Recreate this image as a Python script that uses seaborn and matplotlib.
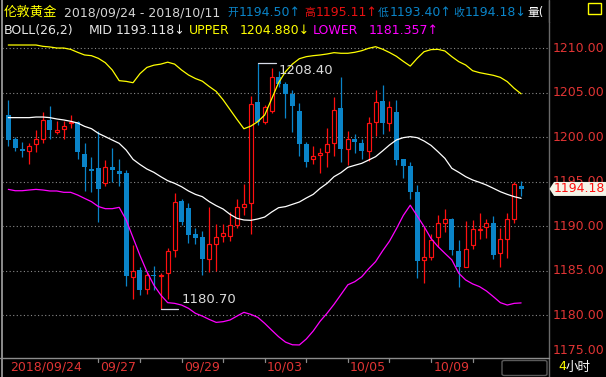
import numpy as np
import pandas as pd
import matplotlib
matplotlib.use("Agg")
import matplotlib.pyplot as plt
from matplotlib.patches import FancyBboxPatch, Polygon, Rectangle
import seaborn as sns

# ---------------- data ----------------
open_ = [1202.5, 1199.8, 1198.6, 1198.4, 1199.2, 1199.8, 1201.9, 1200.6, 1200.95, 1201.55,
         1201.75, 1198.1, 1196.4, 1196.5, 1194.8, 1196.65, 1196.2, 1196.0, 1184.3, 1185.05,
         1182.9, 1184.45, 1184.35, 1184.7, 1187.3, 1192.8, 1192.0, 1189.1, 1188.75, 1186.25,
         1187.95, 1188.85, 1188.85, 1190.15, 1192.1, 1192.65, 1203.95, 1201.75, 1202.9, 1206.75,
         1206.0, 1204.85, 1202.9, 1199.2, 1197.5, 1198.05, 1198.3, 1199.4, 1203.3, 1198.65,
         1199.75, 1199.4, 1198.5, 1201.75, 1204.05, 1201.65, 1202.85, 1197.5, 1196.75, 1193.85,
         1186.15, 1186.55, 1188.75, 1190.4, 1190.75, 1187.2, 1185.45, 1187.85, 1189.6, 1189.9,
         1190.3, 1186.95, 1188.6, 1190.8, 1194.50]
high = [1204.2, 1200.0, 1199.5, 1199.4, 1200.8, 1202.8, 1203.5, 1201.85, 1201.85, 1202.45,
        1201.85, 1199.35, 1197.8, 1200.65, 1197.4, 1198.8, 1197.6, 1196.3, 1187.9, 1185.35,
        1184.8, 1185.5, 1184.7, 1187.5, 1193.7, 1193.1, 1192.55, 1189.8, 1189.4, 1192.15,
        1190.2, 1190.2, 1191.6, 1193.1, 1194.75, 1204.6, 1208.40, 1203.6, 1207.75, 1207.4,
        1206.2, 1205.3, 1203.8, 1199.5, 1199.0, 1198.75, 1201.0, 1204.5, 1206.75, 1200.65,
        1200.4, 1199.8, 1202.25, 1205.3, 1205.85, 1204.05, 1204.2, 1197.6, 1197.2, 1194.6,
        1189.95, 1189.1, 1191.25, 1191.9, 1190.95, 1188.4, 1190.55, 1190.7, 1191.45, 1190.75,
        1191.1, 1189.8, 1191.45, 1195.0, 1195.11]
low = [1199.05, 1198.5, 1197.8, 1196.95, 1198.3, 1199.4, 1199.8, 1200.4, 1199.8, 1201.05,
       1197.5, 1193.9, 1193.8, 1190.5, 1194.5, 1195.0, 1194.5, 1183.3, 1181.85, 1182.2,
       1182.4, 1182.8, 1180.70, 1181.75, 1186.5, 1190.1, 1188.1, 1188.0, 1184.5, 1184.8,
       1185.0, 1188.25, 1188.35, 1189.75, 1191.3, 1189.1, 1201.35, 1201.5, 1202.7, 1205.6,
       1202.2, 1200.6, 1197.9, 1196.7, 1197.0, 1195.95, 1196.7, 1197.9, 1197.25, 1196.9,
       1198.2, 1197.6, 1197.35, 1200.15, 1200.4, 1200.75, 1196.9, 1195.45, 1193.05, 1184.2,
       1183.6, 1186.2, 1187.7, 1189.3, 1186.75, 1183.2, 1185.35, 1187.45, 1188.6, 1188.65,
       1186.25, 1185.35, 1186.4, 1190.3, 1193.40]
close = [1199.7, 1198.8, 1198.5, 1199.0, 1199.8, 1201.9, 1200.85, 1200.8, 1201.3, 1201.7,
         1198.3, 1196.6, 1196.2, 1194.2, 1196.6, 1196.35, 1195.9, 1184.4, 1184.95, 1182.85,
         1184.55, 1184.35, 1184.55, 1187.15, 1192.7, 1190.5, 1189.05, 1188.7, 1186.35, 1187.95,
         1188.75, 1189.2, 1190.1, 1192.1, 1192.45, 1203.7, 1201.75, 1203.4, 1206.75, 1206.0,
         1204.85, 1203.55, 1199.25, 1197.25, 1197.85, 1198.2, 1199.25, 1203.1, 1198.7, 1199.75,
         1199.5, 1198.45, 1201.55, 1204.0, 1201.6, 1203.35, 1197.45, 1196.75, 1193.85, 1186.1,
         1186.5, 1188.4, 1190.3, 1190.75, 1187.3, 1185.45, 1187.4, 1189.65, 1189.7, 1190.3,
         1186.8, 1188.5, 1190.75, 1194.7, 1194.18]
upper = [1210.37, 1210.37, 1210.37, 1210.37, 1210.37, 1210.22, 1210.15, 1210.03, 1210.03, 1209.88,
         1209.55, 1209.25, 1209.17, 1208.87, 1208.38, 1207.56, 1206.36, 1206.28, 1206.13, 1207.15,
         1207.85, 1208.1, 1208.22, 1208.44, 1208.22, 1207.56, 1207.0, 1206.6, 1206.3, 1205.7,
         1205.15, 1204.2, 1203.1, 1202.0, 1200.95, 1201.25, 1201.75, 1202.5, 1204.3, 1206.13,
         1207.37, 1208.23, 1208.83, 1209.06, 1209.17, 1209.25, 1209.36, 1209.51, 1209.44, 1209.44,
         1209.55, 1209.73, 1210.0, 1210.18, 1209.9, 1209.53, 1209.1, 1208.53, 1208.0, 1208.87,
         1209.62, 1209.85, 1209.88, 1209.7, 1209.06, 1208.5, 1208.12, 1207.48, 1207.26, 1207.11,
         1206.96, 1206.73, 1206.25, 1205.5, 1204.88]
mid = [1202.2, 1202.2, 1202.2, 1202.2, 1202.27, 1202.27, 1202.2, 1202.05, 1201.94, 1201.79,
       1201.6, 1201.22, 1200.96, 1200.43, 1200.06, 1199.68, 1199.31, 1198.56, 1197.51, 1196.93,
       1196.42, 1196.05, 1195.56, 1195.11, 1194.81, 1194.43, 1193.95, 1193.57, 1193.31, 1192.75,
       1192.3, 1191.92, 1191.32, 1190.87, 1190.69, 1190.65, 1190.8, 1191.02, 1191.58, 1192.07,
       1192.19, 1192.45, 1192.71, 1193.16, 1193.57, 1194.25, 1194.81, 1195.56, 1196.01, 1196.61,
       1196.84, 1197.06, 1197.43, 1197.81, 1198.45, 1199.12, 1199.69, 1199.95, 1200.06, 1199.95,
       1199.57, 1199.08, 1198.37, 1197.62, 1196.5, 1196.05, 1195.56, 1195.19, 1194.92, 1194.62,
       1194.25, 1193.87, 1193.57, 1193.31, 1193.12]
lower = [1194.13, 1193.98, 1193.98, 1194.06, 1194.13, 1194.06, 1193.95, 1193.95, 1193.8, 1193.8,
         1193.5, 1193.12, 1192.75, 1192.2, 1191.96, 1191.96, 1192.11, 1190.7, 1188.7, 1186.7,
         1184.87, 1183.37, 1182.25, 1181.39, 1181.31, 1181.12, 1180.75, 1180.19, 1179.88, 1179.5,
         1179.17, 1179.25, 1179.44, 1179.88, 1180.3, 1180.07, 1179.74, 1179.06, 1178.3, 1177.56,
         1176.95, 1176.65, 1176.63, 1177.3, 1178.2, 1179.3, 1180.2, 1181.2, 1182.3, 1183.4,
         1183.75, 1184.3, 1185.2, 1186.0, 1187.2, 1188.3, 1189.7, 1191.2, 1192.35, 1191.15,
         1189.94, 1188.6, 1187.7, 1186.94, 1186.2, 1184.7, 1183.94, 1183.5, 1183.19, 1182.7,
         1182.06, 1181.39, 1181.12, 1181.31, 1181.36]

price_ticks = [1210, 1205, 1200, 1195, 1190, 1185, 1180]
date_labels = ["2018/09/24", "09/27", "09/29", "10/03", "10/05", "10/09"]
date_label_idx = [0, 13, 25, 37, 49, 61]
minor_tick_idx = [13, 19, 25, 31, 37, 43, 49, 55, 61, 67]

header_name = "伦敦黄金"
header_range = "2018/09/24 - 2018/10/11"
ohlc_text = [("开", "1194.50↑"), ("高", "1195.11↑"), ("低", "1193.40↑"), ("收", "1194.18↓")]
boll_values = {"MID": "1193.118↓", "UPPER": "1204.880↓", "LOWER": "1181.357↑"}
last_price = "1194.18"

# ---------------- style ----------------
sns.set_theme(style="dark")
plt.rcParams["font.family"] = ["DejaVu Sans", "Noto Sans CJK SC"]
plt.rcParams["axes.facecolor"] = "black"
plt.rcParams["figure.facecolor"] = "black"

W, H = 606, 377
fig = plt.figure(figsize=(W / 100, H / 100), dpi=100)
fig.patch.set_facecolor("black")

# axes: x pixels 2..548, y pixels 0..357
ax = fig.add_axes([2 / W, (H - 357) / H, 546 / W, 357 / H])
ax.set_facecolor("black")
px_per_bar = 6.93
x0px = 8.3
ppu = 8.89  # pixels per price unit
XL = ((2 - x0px) / px_per_bar, (548 - x0px) / px_per_bar)
YL = (1210 - (357 - 48.3) / ppu, 1210 + 48.3 / ppu)
for s in ax.spines.values():
    s.set_visible(False)
ax.grid(False)

BLUE = "#0a84c8"
RED = "#ff1010"
LABEL_RED = "#e03434"

# gridlines
for p in price_ticks:
    ax.axhline(p, color="#8a8a8a", lw=0.8, ls=(0, (1, 2.2)), zorder=1)

n = len(open_)
idx = np.arange(n)
o = np.array(open_); c = np.array(close); h = np.array(high); l = np.array(low)
up = c >= o
bw = 0.72

# blue (down) candles
dn = ~up
ax.vlines(idx[dn], l[dn], h[dn], color=BLUE, lw=0.9, zorder=3)
hgt = np.maximum(o[dn] - c[dn], 0.12)
ax.bar(idx[dn], hgt, bottom=c[dn], width=bw, color=BLUE, linewidth=0, zorder=4)
# red (up) candles, hollow
top = np.maximum(o, c); bot = np.minimum(o, c)
ax.vlines(idx[up], top[up], h[up], color=RED, lw=0.9, zorder=3)
ax.vlines(idx[up], l[up], bot[up], color=RED, lw=0.9, zorder=3)
hgt = np.maximum(c[up] - o[up], 0.1)
ax.bar(idx[up], hgt, bottom=o[up], width=bw - 0.14, facecolor="black",
       edgecolor=RED, linewidth=0.85, zorder=4)

# Bollinger lines
df = pd.DataFrame({"idx": idx, "upper": upper, "mid": mid, "lower": lower})
sns.lineplot(data=df, x="idx", y="upper", color="#ffff00", lw=0.9, ax=ax, zorder=5, legend=False)
sns.lineplot(data=df, x="idx", y="mid", color="#ffffff", lw=0.9, ax=ax, zorder=5, legend=False)
sns.lineplot(data=df, x="idx", y="lower", color="#ff00ff", lw=0.9, ax=ax, zorder=5, legend=False)
ax.set_xlabel(""); ax.set_ylabel("")
ax.set_xticks([]); ax.set_yticks([])
ax.set_xlim(*XL)
ax.set_ylim(*YL)

# high / low markers
ihi = int(np.argmax(h)); ilo = int(np.argmin(l))
ax.plot([ihi, ihi + 2.6], [h[ihi], h[ihi]], color="#d8dce8", lw=0.9, zorder=6)
ax.text(ihi + 3.0, h[ihi] - 0.15, f"{h[ihi]:.2f}", color="#dcdcdc", fontsize=9.5,
        va="top", ha="left", zorder=7)
ax.plot([ilo, ilo + 2.5], [l[ilo], l[ilo]], color="#d8dce8", lw=0.9, zorder=6)
ax.text(ilo + 2.95, l[ilo] + 0.3, f"{l[ilo]:.2f}", color="#dcdcdc", fontsize=9.5,
        va="bottom", ha="left", zorder=7)

# ---------------- frame helpers (pixel coords) ----------------
def fx(x):
    return x / W

def fy(y):
    return 1 - y / H

def fline(x1, y1, x2, y2, color="#808080", lw=1.0, z=2):
    fig.add_artist(plt.Line2D([fx(x1), fx(x2)], [fy(y1), fy(y2)], color=color, lw=lw,
                              transform=fig.transFigure, zorder=z))

def ftext(x, y, s, color, size=9, ha="left", va="center", z=3, **kw):
    return fig.text(fx(x), fy(y), s, color=color, fontsize=size, ha=ha, va=va, zorder=z, **kw)

fline(1.5, 0, 1.5, 377, "#8c8c8c", 1.4)
fline(548.5, 0, 548.5, 377, "#6a6a6a", 1.0)
fline(0, 357.5, 548.5, 357.5, "#8c8c8c", 1.0)

# right price labels
for p in price_ticks:
    ypx = 48.3 + (1210 - p) * ppu
    ftext(553, ypx, f"{p:.2f}", LABEL_RED, 9)
ftext(553, 350, "1175.00", LABEL_RED, 9)

# last price tag (covers the neighbouring axis label)
ylast = 48.3 + (1210 - c[-1]) * ppu
poly = Polygon([[fx(549.5), fy(ylast)], [fx(554), fy(ylast - 7)], [fx(606), fy(ylast - 7)],
                [fx(606), fy(ylast + 7)], [fx(554), fy(ylast + 7)]], closed=True,
               transform=fig.transFigure, facecolor="#f4f4e8", edgecolor="none", zorder=10)
fig.add_artist(poly)
ftext(553.5, ylast, last_price, RED, 9, z=11)

# date axis
for i in minor_tick_idx:
    xp = x0px + px_per_bar * i
    fline(xp, 357.5, xp, 361.5, "#8c8c8c", 0.9)
for lab, i in zip(date_labels, date_label_idx):
    xp = x0px + px_per_bar * i + (1.4 if i == 0 else 2.2)
    ftext(xp, 366.5, lab, LABEL_RED, 9)
box = FancyBboxPatch((fx(502), fy(375.5)), fx(45), 15 / H, boxstyle="round,pad=0,rounding_size=0.004",
                     transform=fig.transFigure, facecolor="none", edgecolor="#5a5a5a", lw=1.0)
fig.add_artist(box)
ftext(558, 367, "4", "#ffff00", 9)
ftext(566, 367, "小时", "#ffffff", 9)

# header row 1
ftext(3.5, 12.5, header_name, "#ffff00", 9.6)
ftext(64, 12.5, header_range, "#d4d4d4", 9)
hdr_x = [(227.5, 239), (304, 315.5), (378, 389.5), (453, 464.5)]
hdr_col = [BLUE, "#e81010", BLUE, BLUE]
for (lab, val), (xa, xb), col in zip(ohlc_text, hdr_x, hdr_col):
    ftext(xa, 12.5, lab, col, 7.8)
    ftext(xb, 12.5, val, col, 9)
ftext(527, 12.5, "量(", "#ffffff", 8.5)
fig.add_artist(Rectangle((fx(549), fy(22)), fx(57), 22 / H, transform=fig.transFigure,
                         facecolor="black", edgecolor="none", zorder=5))
fline(548.5, 0, 548.5, 22, "#6a6a6a", 1.0, z=6)
fig.add_artist(Rectangle((fx(588), fy(13.5)), fx(13), 10 / H, transform=fig.transFigure,
                         facecolor="none", edgecolor="#ffff00", lw=1.0, zorder=6))

# header row 2
ftext(4, 30.7, "BOLL(26,2)", "#e6e6e6", 9)
ftext(89, 30.7, "MID", "#e6e6e6", 9)
ftext(116, 30.7, boll_values["MID"], "#e6e6e6", 9)
ftext(189, 30.7, "UPPER", "#ffff00", 9)
ftext(240, 30.7, boll_values["UPPER"], "#ffff00", 9)
ftext(313, 30.7, "LOWER", "#ff00ff", 9)
ftext(369, 30.7, boll_values["LOWER"], "#ff00ff", 9)

fig.savefig("out.png", dpi=100, facecolor="black")
